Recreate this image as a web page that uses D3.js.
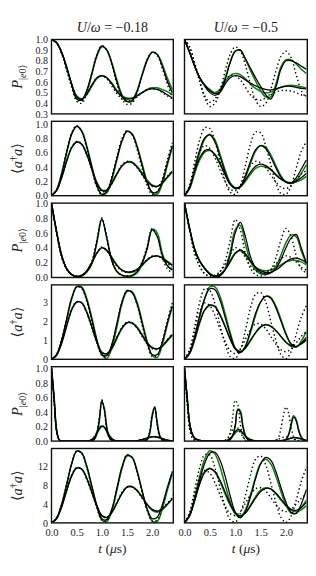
<!DOCTYPE html>
<html><head><meta charset="utf-8">
<script src="https://cdn.jsdelivr.net/npm/d3@7"></script>
<style>body{margin:0;background:#fff}svg{display:block}</style>
</head><body><svg id="c" width="316" height="576"></svg>
<script>
// ---- sample times (µs) ----
const time = [0,0.1,0.2,0.3,0.4,0.5,0.6,0.7,0.8,0.9,1.0,1.1,1.2,1.3,1.4,1.5,1.6,1.7,1.8,1.9,2.0,2.1,2.2,2.3,2.4];
const timeFine = [0,0.05,0.1,0.15,0.2,0.25,0.3,0.35,0.4,0.45,0.5,0.55,0.6,0.65,0.7,0.75,0.8,0.85,0.9,0.95,1,1.05,1.1,1.15,1.2,1.25,1.3,1.35,1.4,1.45,1.5,1.55,1.6,1.65,1.7,1.75,1.8,1.85,1.9,1.95,2,2.05,2.1,2.15,2.2,2.25,2.3,2.35,2.4];

// ---- column titles / axis labels ----
const columnTitles = ["−0.18", "−0.5"];
const xTicks = [0.0, 0.5, 1.0, 1.5, 2.0];
const yTicksRow1 = [0.3,0.4,0.5,0.6,0.7,0.8,0.9,1.0];
const yTicksUnit = [0.0,0.2,0.4,0.6,0.8,1.0];
const yTicksRow4 = [0,1,2,3];
const yTicksRow6 = [0,4,8,12];

// ---- Row 1: P|e0>, U/w=-0.18 ----
const p1L_bS = [1.00,0.97,0.88,0.74,0.58,0.44,0.43,0.52,0.68,0.85,0.94,0.90,0.77,0.60,0.47,0.415,0.42,0.51,0.66,0.80,0.88,0.86,0.75,0.61,0.50];
const p1L_gS = [1.00,0.97,0.88,0.74,0.58,0.46,0.43,0.51,0.67,0.84,0.93,0.90,0.78,0.62,0.48,0.42,0.43,0.52,0.67,0.81,0.88,0.86,0.77,0.64,0.53];
const p1L_bW = [1.00,0.97,0.88,0.74,0.58,0.46,0.44,0.49,0.57,0.64,0.66,0.64,0.58,0.51,0.46,0.44,0.445,0.47,0.50,0.525,0.535,0.53,0.51,0.48,0.45];
const p1L_gW = [1.00,0.97,0.88,0.74,0.58,0.47,0.44,0.48,0.56,0.63,0.66,0.64,0.59,0.52,0.47,0.45,0.45,0.47,0.50,0.53,0.545,0.545,0.53,0.51,0.48];
const p1L_dS = [1.00,0.97,0.87,0.72,0.55,0.42,0.40,0.50,0.68,0.86,0.94,0.90,0.76,0.58,0.44,0.39,0.40,0.50,0.66,0.81,0.88,0.85,0.73,0.58,0.46];
const p1L_dW = [1.00,0.97,0.87,0.72,0.56,0.44,0.42,0.48,0.57,0.64,0.66,0.63,0.56,0.49,0.44,0.42,0.43,0.46,0.50,0.53,0.54,0.53,0.50,0.47,0.44];
// ---- Row 1: U/w=-0.5 ----
const p1R_bS = [1.00,0.88,0.75,0.64,0.57,0.52,0.49,0.51,0.62,0.78,0.89,0.90,0.82,0.73,0.64,0.56,0.48,0.44,0.55,0.72,0.80,0.80,0.78,0.75,0.72];
const p1R_gS = [1.00,0.88,0.75,0.64,0.57,0.53,0.50,0.53,0.64,0.79,0.89,0.90,0.81,0.71,0.61,0.52,0.46,0.46,0.58,0.74,0.81,0.81,0.77,0.72,0.68];
const p1R_bW = [1.00,0.88,0.75,0.64,0.56,0.50,0.475,0.50,0.58,0.64,0.66,0.65,0.62,0.59,0.565,0.545,0.53,0.525,0.535,0.55,0.56,0.56,0.55,0.54,0.535];
const p1R_gW = [1.00,0.88,0.75,0.64,0.57,0.52,0.50,0.53,0.60,0.66,0.68,0.67,0.63,0.58,0.54,0.51,0.50,0.505,0.53,0.55,0.565,0.57,0.565,0.555,0.545];
const p1R_dS = [1.00,0.93,0.78,0.60,0.45,0.37,0.40,0.52,0.70,0.86,0.93,0.89,0.76,0.58,0.43,0.37,0.40,0.53,0.70,0.84,0.89,0.83,0.67,0.52,0.45];
const p1R_dW = [1.00,0.93,0.78,0.61,0.47,0.41,0.44,0.53,0.62,0.66,0.66,0.62,0.55,0.48,0.44,0.43,0.45,0.48,0.505,0.52,0.52,0.515,0.50,0.48,0.47];

// ---- Row 2: <a†a> ----
const p2L_bS = [0.00,0.08,0.30,0.60,0.86,0.97,0.90,0.68,0.40,0.14,0.02,0.06,0.25,0.52,0.77,0.90,0.86,0.68,0.42,0.18,0.05,0.05,0.20,0.45,0.70];
const p2L_gS = [0.00,0.08,0.30,0.60,0.86,0.97,0.91,0.70,0.42,0.15,0.01,0.04,0.22,0.50,0.76,0.90,0.87,0.70,0.45,0.20,0.04,0.02,0.16,0.42,0.68];
const p2L_bW = [0.00,0.07,0.25,0.48,0.67,0.75,0.72,0.58,0.38,0.18,0.07,0.08,0.18,0.31,0.42,0.47,0.46,0.40,0.30,0.20,0.14,0.13,0.18,0.26,0.34];
const p2L_gW = [0.00,0.07,0.25,0.48,0.67,0.75,0.72,0.58,0.38,0.19,0.08,0.08,0.17,0.30,0.41,0.47,0.47,0.41,0.32,0.22,0.15,0.13,0.17,0.25,0.33];
const p2L_dS = [0.00,0.08,0.31,0.62,0.88,0.98,0.90,0.66,0.37,0.12,0.01,0.07,0.27,0.55,0.80,0.91,0.85,0.65,0.38,0.14,0.02,0.06,0.23,0.50,0.74];
const p2L_dW = [0.00,0.07,0.26,0.49,0.68,0.76,0.72,0.57,0.37,0.17,0.06,0.07,0.17,0.31,0.43,0.48,0.46,0.39,0.29,0.19,0.13,0.13,0.19,0.27,0.35];
const p2R_bS = [0.00,0.12,0.38,0.64,0.81,0.85,0.75,0.55,0.33,0.16,0.10,0.13,0.28,0.48,0.64,0.70,0.66,0.54,0.39,0.26,0.19,0.18,0.25,0.37,0.50];
const p2R_gS = [0.00,0.10,0.34,0.60,0.79,0.86,0.78,0.58,0.36,0.18,0.10,0.12,0.25,0.45,0.62,0.70,0.68,0.57,0.42,0.28,0.19,0.17,0.21,0.31,0.43];
const p2R_bW = [0.00,0.11,0.34,0.53,0.63,0.64,0.57,0.44,0.29,0.16,0.11,0.13,0.22,0.33,0.41,0.44,0.42,0.37,0.29,0.23,0.19,0.18,0.20,0.25,0.31];
const p2R_gW = [0.00,0.10,0.31,0.50,0.61,0.63,0.58,0.46,0.31,0.18,0.11,0.12,0.20,0.30,0.38,0.41,0.40,0.36,0.30,0.24,0.20,0.18,0.19,0.22,0.27];
const p2R_dS = [0.00,0.15,0.47,0.78,0.95,0.94,0.76,0.48,0.21,0.05,0.02,0.14,0.42,0.72,0.89,0.88,0.70,0.43,0.18,0.03,0.02,0.14,0.38,0.62,0.75];
const p2R_dW = [0.00,0.13,0.40,0.62,0.70,0.66,0.53,0.36,0.20,0.09,0.07,0.14,0.29,0.42,0.48,0.46,0.39,0.29,0.19,0.12,0.10,0.14,0.22,0.30,0.35];

// ---- Row 3: P|e0> ----
const p3L_bS = [1.00,0.62,0.30,0.12,0.04,0.01,0.02,0.08,0.18,0.48,0.79,0.52,0.22,0.08,0.03,0.02,0.03,0.08,0.20,0.38,0.64,0.55,0.30,0.16,0.10];
const p3L_gS = [1.00,0.62,0.30,0.12,0.04,0.01,0.02,0.07,0.19,0.46,0.78,0.53,0.23,0.08,0.03,0.01,0.02,0.06,0.18,0.40,0.65,0.60,0.33,0.16,0.11];
const p3L_bW = [1.00,0.62,0.30,0.12,0.04,0.015,0.03,0.09,0.20,0.33,0.40,0.36,0.26,0.16,0.10,0.075,0.08,0.11,0.17,0.24,0.28,0.29,0.26,0.21,0.16];
const p3L_gW = [1.00,0.62,0.30,0.12,0.04,0.015,0.03,0.08,0.19,0.32,0.40,0.37,0.27,0.17,0.10,0.07,0.07,0.10,0.16,0.23,0.28,0.29,0.27,0.22,0.17];
const p3L_dS = [1.00,0.60,0.28,0.11,0.04,0.01,0.02,0.09,0.22,0.50,0.80,0.55,0.22,0.08,0.03,0.02,0.03,0.08,0.21,0.42,0.66,0.55,0.28,0.12,0.06];
const p3L_dW = [1.00,0.60,0.28,0.11,0.04,0.02,0.03,0.09,0.20,0.33,0.41,0.36,0.25,0.15,0.09,0.07,0.08,0.11,0.17,0.24,0.29,0.29,0.25,0.19,0.14];
const p3R_bS = [1.00,0.66,0.38,0.22,0.12,0.04,0.01,0.02,0.10,0.30,0.60,0.74,0.55,0.28,0.13,0.07,0.05,0.06,0.12,0.24,0.40,0.53,0.58,0.40,0.20];
const p3R_gS = [1.00,0.66,0.38,0.22,0.12,0.05,0.02,0.03,0.12,0.34,0.64,0.70,0.45,0.22,0.10,0.05,0.04,0.07,0.15,0.30,0.47,0.57,0.55,0.36,0.18];
const p3R_bW = [1.00,0.66,0.38,0.22,0.12,0.05,0.02,0.04,0.10,0.21,0.32,0.37,0.32,0.22,0.14,0.09,0.07,0.07,0.10,0.15,0.21,0.25,0.26,0.24,0.20];
const p3R_gW = [1.00,0.66,0.38,0.22,0.12,0.05,0.02,0.04,0.11,0.23,0.33,0.36,0.30,0.21,0.14,0.10,0.09,0.10,0.13,0.17,0.21,0.23,0.23,0.21,0.17];
const p3R_dS = [1.00,0.64,0.33,0.15,0.05,0.01,0.02,0.08,0.22,0.50,0.78,0.64,0.32,0.12,0.04,0.02,0.04,0.10,0.26,0.50,0.66,0.55,0.30,0.12,0.06];
const p3R_dW = [1.00,0.64,0.33,0.15,0.05,0.02,0.03,0.08,0.17,0.30,0.40,0.37,0.27,0.16,0.09,0.06,0.07,0.11,0.18,0.25,0.29,0.27,0.21,0.14,0.10];

// ---- Row 4: <a†a> ----
const p4L_bS = [0.00,0.25,1.00,2.10,3.20,3.80,3.75,3.10,2.10,1.00,0.25,0.20,0.80,1.90,3.00,3.60,3.50,2.90,1.90,0.90,0.25,0.25,0.90,1.90,2.80];
const p4L_gS = [0.00,0.22,0.95,2.05,3.15,3.80,3.80,3.20,2.20,1.05,0.25,0.05,0.60,1.70,2.90,3.55,3.55,3.00,2.00,0.95,0.20,0.10,0.75,1.80,2.75];
const p4L_bW = [0.00,0.22,0.85,1.75,2.60,3.00,2.95,2.45,1.70,0.90,0.35,0.30,0.60,1.15,1.65,1.92,1.90,1.65,1.25,0.85,0.60,0.55,0.70,1.00,1.30];
const p4L_gW = [0.00,0.20,0.82,1.72,2.58,3.00,2.97,2.50,1.75,0.95,0.38,0.28,0.55,1.10,1.60,1.90,1.92,1.70,1.30,0.90,0.62,0.55,0.68,0.95,1.25];
const p4L_dS = [0.00,0.25,1.00,2.10,3.20,3.80,3.70,3.05,2.00,0.95,0.20,0.15,0.75,1.85,3.00,3.60,3.50,2.85,1.80,0.80,0.15,0.20,0.90,2.00,2.95];
const p4L_dW = [0.00,0.22,0.86,1.78,2.62,3.02,2.95,2.42,1.65,0.88,0.35,0.30,0.60,1.15,1.68,1.95,1.90,1.62,1.20,0.80,0.55,0.52,0.70,1.02,1.35];
const p4R_bS = [0.00,0.35,1.20,2.30,3.20,3.70,3.65,3.10,2.20,1.30,0.55,0.35,0.70,1.50,2.40,3.00,3.30,3.20,2.70,2.00,1.30,0.80,0.65,0.85,1.15];
const p4R_gS = [0.00,0.30,1.10,2.20,3.20,3.80,3.80,3.30,2.40,1.40,0.60,0.35,0.65,1.40,2.30,3.00,3.30,3.25,2.80,2.10,1.35,0.80,0.65,0.95,1.45];
const p4R_bW = [0.00,0.32,1.05,1.95,2.60,2.85,2.75,2.30,1.70,1.05,0.55,0.40,0.60,1.00,1.40,1.70,1.80,1.72,1.50,1.20,0.90,0.72,0.68,0.80,1.00];
const p4R_gW = [0.00,0.30,1.00,1.90,2.58,2.82,2.78,2.35,1.75,1.10,0.57,0.40,0.58,0.97,1.38,1.70,1.82,1.75,1.52,1.20,0.88,0.68,0.65,0.82,1.05];
const p4R_dS = [0.00,0.50,1.70,3.00,3.70,3.60,2.90,1.80,0.80,0.15,0.05,0.50,1.50,2.70,3.40,3.50,3.00,2.00,1.00,0.25,0.03,0.40,1.30,2.20,2.80];
const p4R_dW = [0.00,0.45,1.50,2.50,2.95,2.80,2.30,1.60,0.95,0.45,0.30,0.55,1.05,1.55,1.85,1.85,1.60,1.20,0.80,0.50,0.40,0.55,0.85,1.20,1.45];

// ---- Row 5: P|e0> (fine time grid) ----
const p5L_bS = [1.0,0.60,0.15,0.02,0,0,0,0,0,0, 0,0,0,0,0,0,0.005,0.03,0.11,0.30, 0.56,0.43,0.17,0.05,0.01,0,0,0,0,0, 0,0,0,0,0,0,0,0.005,0.02,0.11, 0.35,0.47,0.24,0.07,0.015,0,0,0,0];
const p5L_gS = [1.0,0.62,0.16,0.02,0,0,0,0,0,0, 0,0,0,0,0,0,0.003,0.02,0.09,0.27, 0.54,0.45,0.19,0.05,0.01,0,0,0,0,0, 0,0,0,0,0,0,0,0.004,0.02,0.10, 0.33,0.47,0.26,0.08,0.02,0.003,0,0,0];
const p5L_bW = [1.0,0.60,0.15,0.02,0,0,0,0,0,0, 0,0,0,0,0,0.005,0.02,0.05,0.11,0.17, 0.21,0.19,0.13,0.07,0.03,0.01,0.003,0,0,0, 0,0,0,0.003,0.006,0.012,0.02,0.03,0.042,0.053, 0.06,0.062,0.058,0.048,0.035,0.022,0.012,0.006,0.002];
const p5L_gW = [1.0,0.62,0.16,0.02,0,0,0,0,0,0, 0,0,0,0,0,0.004,0.015,0.045,0.10,0.16, 0.20,0.19,0.14,0.08,0.035,0.012,0.004,0,0,0, 0,0,0,0.002,0.005,0.01,0.018,0.028,0.04,0.05, 0.055,0.057,0.054,0.046,0.035,0.024,0.014,0.007,0.003];
const p5L_dS = [1.0,0.58,0.14,0.02,0,0,0,0,0,0, 0,0,0,0,0,0,0.005,0.03,0.12,0.32, 0.57,0.42,0.15,0.04,0.005,0,0,0,0,0, 0,0,0,0,0,0,0,0.007,0.03,0.13, 0.37,0.46,0.22,0.06,0.01,0,0,0,0];
const p5L_dW = [1.0,0.58,0.14,0.02,0,0,0,0,0,0, 0,0,0,0,0,0.006,0.025,0.06,0.12,0.18, 0.22,0.19,0.12,0.06,0.025,0.008,0.002,0,0,0, 0,0,0,0.004,0.008,0.015,0.024,0.035,0.047,0.057, 0.062,0.06,0.053,0.042,0.03,0.018,0.009,0.004,0.001];
const p5R_bS = [1.0,0.62,0.25,0.10,0.04,0.02,0.01,0.005,0,0, 0,0,0,0,0,0,0,0.005,0.02,0.08, 0.22,0.43,0.40,0.20,0.07,0.02,0.005,0,0,0, 0,0,0,0,0,0,0,0,0,0.005, 0.02,0.08,0.21,0.33,0.28,0.14,0.05,0.015,0.005];
const p5R_gS = [1.0,0.62,0.25,0.10,0.04,0.02,0.01,0.005,0,0, 0,0,0,0,0,0,0,0.004,0.02,0.07, 0.20,0.44,0.42,0.22,0.08,0.02,0.005,0,0,0, 0,0,0,0,0,0,0,0,0,0.006, 0.025,0.09,0.24,0.35,0.30,0.16,0.06,0.02,0.005];
const p5R_bW = [1.0,0.62,0.25,0.10,0.04,0.02,0.01,0.005,0,0, 0,0,0,0,0,0,0.005,0.015,0.04,0.08, 0.13,0.16,0.15,0.11,0.07,0.04,0.02,0.01,0.005,0, 0,0,0,0,0,0,0,0.003,0.006,0.012, 0.02,0.03,0.042,0.05,0.048,0.04,0.03,0.02,0.012];
const p5R_gW = [1.0,0.62,0.25,0.10,0.04,0.02,0.01,0.005,0,0, 0,0,0,0,0,0,0.003,0.01,0.03,0.07, 0.11,0.14,0.14,0.11,0.07,0.04,0.02,0.01,0.004,0, 0,0,0,0,0,0,0,0.002,0.005,0.01, 0.018,0.028,0.038,0.045,0.045,0.038,0.028,0.018,0.01];
const p5R_dS = [1.0,0.55,0.18,0.05,0.01,0,0,0,0,0, 0,0,0,0,0,0,0.005,0.03,0.12,0.33, 0.56,0.50,0.24,0.07,0.01,0,0,0,0,0, 0,0,0,0,0,0,0.01,0.05,0.17,0.36, 0.47,0.39,0.19,0.06,0.01,0,0,0,0];
const p5R_dW = [1.0,0.55,0.18,0.05,0.01,0,0,0,0,0, 0,0,0,0,0,0,0.01,0.04,0.09,0.16, 0.20,0.18,0.12,0.06,0.025,0.01,0,0,0,0, 0,0,0,0,0,0.005,0.012,0.025,0.04,0.055, 0.06,0.055,0.04,0.025,0.012,0.005,0,0,0];

// ---- Row 6: <a†a> ----
const p6L_bS = [0.0,1.0,3.8,8.0,12.5,15.3,15.0,12.2,8.0,3.8,0.9,0.7,3.0,7.5,12.0,14.5,14.0,11.0,6.8,3.0,0.9,1.2,3.8,7.5,10.9];
const p6L_gS = [0.0,1.0,3.9,8.2,12.7,15.3,14.9,12.0,7.7,3.5,0.6,0.3,2.6,7.0,11.6,14.3,14.0,11.2,6.9,2.9,0.4,0.3,2.9,6.9,10.5];
const p6L_bW = [0.0,0.9,3.4,6.8,10.0,11.7,11.5,9.6,6.7,3.7,1.6,1.2,2.3,4.3,6.3,7.6,7.7,6.9,5.5,4.0,2.9,2.5,3.0,4.0,5.2];
const p6L_gW = [0.0,0.9,3.4,6.9,10.1,11.8,11.5,9.5,6.6,3.6,1.5,1.1,2.2,4.2,6.3,7.7,7.8,7.0,5.5,3.9,2.7,2.3,2.8,3.9,5.1];
const p6L_dS = [0.0,1.0,3.9,8.3,12.8,15.4,14.8,11.9,7.6,3.4,0.6,0.5,2.8,7.2,11.8,14.5,14.0,11.0,6.6,2.6,0.4,0.6,3.3,7.4,11.0];
const p6L_dW = [0.0,0.9,3.5,7.0,10.2,11.8,11.4,9.3,6.4,3.5,1.5,1.2,2.4,4.4,6.5,7.7,7.7,6.8,5.3,3.8,2.8,2.5,3.1,4.2,5.4];
const p6R_bS = [0.0,1.6,5.0,9.2,12.8,14.9,15.1,13.4,10.0,5.8,2.3,1.1,2.4,5.5,9.4,12.6,14.0,13.4,11.0,7.6,4.4,2.2,2.0,4.0,7.1];
const p6R_gS = [0.0,1.7,5.5,10.0,13.7,15.4,14.7,12.0,8.2,4.5,1.9,1.2,2.8,6.0,9.8,12.7,13.6,12.6,10.0,6.7,3.8,2.1,2.1,3.3,4.8];
const p6R_bW = [0.0,1.5,4.7,8.3,10.8,11.6,11.0,9.1,6.6,4.1,2.2,1.5,2.1,3.6,5.3,6.7,7.4,7.3,6.4,5.1,3.8,2.9,2.7,3.3,4.4];
const p6R_gW = [0.0,1.5,4.8,8.6,11.0,11.7,10.8,8.8,6.2,3.8,2.0,1.5,2.2,3.8,5.6,7.0,7.5,7.2,6.2,4.9,3.6,2.7,2.4,2.8,3.7];
const p6R_dS = [0.0,2.2,7.0,11.8,14.6,14.5,11.8,7.6,3.4,0.7,0.2,2.0,5.8,10.2,13.6,14.3,12.4,8.6,4.4,1.2,0.1,1.4,4.8,8.8,11.8];
const p6R_dW = [0.0,2.0,6.0,9.6,11.2,10.6,8.6,6.0,3.6,2.0,1.6,2.4,4.2,6.0,7.3,7.5,6.8,5.4,3.9,2.8,2.4,2.9,4.0,5.2,6.2];

// ---- layout ----
const colX = [[51.5, 173.3], [184.5, 307.3]];
const rowTop0 = 39.5, rowStep = 81.8, rowH = 74.4;
const GREEN = "#0b800b";
const FONT = "'Liberation Serif','DejaVu Serif',serif";

const rows = [
  {kind:"P", domain:[0.3,1.0], ticks:yTicksRow1, fmt:d3.format(".1f"), t:time,
   L:[p1L_bS,p1L_gS,p1L_bW,p1L_gW,p1L_dS,p1L_dW], R:[p1R_bS,p1R_gS,p1R_bW,p1R_gW,p1R_dS,p1R_dW]},
  {kind:"N", domain:[0,1.04], ticks:yTicksUnit, fmt:d3.format(".1f"), t:time,
   L:[p2L_bS,p2L_gS,p2L_bW,p2L_gW,p2L_dS,p2L_dW], R:[p2R_bS,p2R_gS,p2R_bW,p2R_gW,p2R_dS,p2R_dW]},
  {kind:"P", domain:[0,1.0], ticks:yTicksUnit, fmt:d3.format(".1f"), t:time,
   L:[p3L_bS,p3L_gS,p3L_bW,p3L_gW,p3L_dS,p3L_dW], R:[p3R_bS,p3R_gS,p3R_bW,p3R_gW,p3R_dS,p3R_dW]},
  {kind:"N", domain:[0,3.9], ticks:yTicksRow4, fmt:d3.format("d"), t:time,
   L:[p4L_bS,p4L_gS,p4L_bW,p4L_gW,p4L_dS,p4L_dW], R:[p4R_bS,p4R_gS,p4R_bW,p4R_gW,p4R_dS,p4R_dW]},
  {kind:"P", domain:[0,1.025], ticks:yTicksUnit, fmt:d3.format(".1f"), t:timeFine,
   L:[p5L_bS,p5L_gS,p5L_bW,p5L_gW,p5L_dS,p5L_dW], R:[p5R_bS,p5R_gS,p5R_bW,p5R_gW,p5R_dS,p5R_dW]},
  {kind:"N", domain:[0,15.9], ticks:yTicksRow6, fmt:d3.format("d"), t:time,
   L:[p6L_bS,p6L_gS,p6L_bW,p6L_gW,p6L_dS,p6L_dW], R:[p6R_bS,p6R_gS,p6R_bW,p6R_gW,p6R_dS,p6R_dW]}
];
// style per series index: black solid, green solid, black solid, green solid, dotted, dotted
const seriesStyle = [
  {c:"#000", w:1.25, dash:null},
  {c:GREEN, w:1.5, dash:null},
  {c:"#000", w:1.25, dash:null},
  {c:GREEN, w:1.5, dash:null},
  {c:"#000", w:1.4, dash:"1.4,2.6"},
  {c:"#000", w:1.4, dash:"1.4,2.6"}
];
const drawOrder = [1,3,0,2,4,5];

const svg = d3.select("#c");
const defs = svg.append("defs");

rows.forEach((row, ri) => {
  const top = rowTop0 + ri*rowStep, bottom = top + rowH;
  const y = d3.scaleLinear().domain(row.domain).range([bottom, top]);
  ["L","R"].forEach((side, ci) => {
    const [x0, x1] = colX[ci];
    const x = d3.scaleLinear().domain([0, 2.42]).range([x0, x1]);
    const id = `clip${ri}${ci}`;
    defs.append("clipPath").attr("id", id).append("rect")
      .attr("x", x0).attr("y", top).attr("width", x1-x0).attr("height", rowH);
    const g = svg.append("g");
    const lines = g.append("g").attr("clip-path", `url(#${id})`);
    const line = d3.line().x((d,i)=>x(row.t[i])).y(d=>y(d)).curve(d3.curveCatmullRom.alpha(0.5));
    drawOrder.forEach(si => {
      const st = seriesStyle[si];
      lines.append("path").datum(row[side][si]).attr("d", line)
        .attr("fill","none").attr("stroke", st.c).attr("stroke-width", st.w)
        .attr("stroke-dasharray", st.dash).attr("stroke-linejoin","round");
    });
    // frame
    g.append("rect").attr("x", x0).attr("y", top).attr("width", x1-x0).attr("height", rowH)
      .attr("fill","none").attr("stroke","#111").attr("stroke-width",1.4);
    // y axis tick labels (left column only)
    if (ci === 0) {
      const ax = d3.axisLeft(y).tickValues(row.ticks).tickFormat(row.fmt).tickSize(0).tickPadding(3.5);
      const ga = g.append("g").attr("transform", `translate(${x0},0)`).call(ax);
      ga.select(".domain").remove();
      ga.selectAll("text").attr("font-family", FONT).attr("font-size", 10).attr("fill","#222");
    }
    // x axis on bottom row
    if (ri === rows.length-1) {
      const ax = d3.axisBottom(x).tickValues(xTicks).tickFormat(d3.format(".1f")).tickSize(0).tickPadding(6);
      const ga = g.append("g").attr("transform", `translate(0,${bottom})`).call(ax);
      ga.select(".domain").remove();
      ga.selectAll("text").attr("font-family", FONT).attr("font-size", 10.5).attr("fill","#222");
      const xl = svg.append("text").attr("x", (x0+x1)/2).attr("y", 553)
        .attr("text-anchor","middle").attr("font-family", FONT).attr("font-size", 13.5).attr("fill","#222");
      xl.append("tspan").attr("font-style","italic").text("t");
      xl.append("tspan").text(" (");
      xl.append("tspan").attr("font-style","italic").text("μ");
      xl.append("tspan").text("s)");
    }
    // column titles
    if (ri === 0) {
      const tt = svg.append("text").attr("x", (x0+x1)/2).attr("y", 32)
        .attr("text-anchor","middle").attr("font-family", FONT).attr("font-size", 14).attr("fill","#222");
      tt.append("tspan").attr("font-style","italic").text("U");
      tt.append("tspan").text("/");
      tt.append("tspan").attr("font-style","italic").text("ω");
      tt.append("tspan").text(" = " + columnTitles[ci]);
    }
  });
  // y label
  const cy = top + rowH/2;
  const yl = svg.append("text").attr("transform", `translate(22,${cy}) rotate(-90)`)
    .attr("text-anchor","middle").attr("font-family", FONT).attr("font-size", 14.5).attr("fill","#222");
  if (row.kind === "P") {
    yl.append("tspan").attr("font-style","italic").text("P");
    yl.append("tspan").attr("font-size", 10).attr("dy", 3.5).text("|");
    yl.append("tspan").attr("font-size", 10).attr("font-style","italic").text("e");
    yl.append("tspan").attr("font-size", 10).text("0⟩");
  } else {
    yl.append("tspan").text("⟨");
    yl.append("tspan").attr("font-style","italic").text("a");
    yl.append("tspan").attr("font-size", 10).attr("dy", -5.5).text("†");
    yl.append("tspan").attr("font-style","italic").attr("dy", 5.5).text("a");
    yl.append("tspan").text("⟩");
  }
});
</script></body></html>
